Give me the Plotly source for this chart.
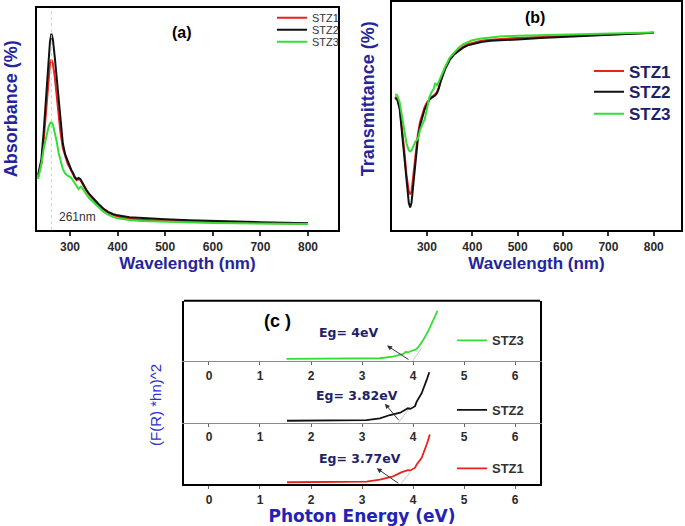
import plotly.graph_objects as go

W, H = 685, 526

# ---------------- Data ----------------
series_names = ["STZ1", "STZ2", "STZ3"]
series_colors = ["#e8221c", "#111111", "#35de35"]

# Panel (a): absorbance
wl_a = [233, 240, 245, 250, 255, 258, 261, 264, 268, 272, 276, 280, 285, 290, 295, 300,
        303, 306, 310, 314, 318, 322, 326, 330, 335, 340, 350, 360, 370, 380, 390, 400,
        425, 450, 500, 550, 600, 650, 700, 750, 800]
abs_stz1 = [24, 30, 41, 55, 69, 75, 76.8, 75, 69, 60, 52, 44, 37, 33, 30, 28, 26.5, 25.5,
            23.5, 22.5, 23, 22.5, 21, 19, 17.5, 16, 13.5, 11.3, 9.3, 7.9, 6.9, 6.2, 5.2,
            4.7, 4.3, 3.9, 3.6, 3.4, 3.3, 3.1, 2.9]
abs_stz2 = [25, 32, 45, 62, 78, 85, 88.4, 86, 78, 68, 58, 48, 39, 34, 31, 28.5, 27, 26,
            24, 23, 23.5, 23, 21.5, 19.5, 18, 16.5, 14, 11.8, 9.8, 8.3, 7.3, 6.7, 5.8,
            5.4, 4.9, 4.5, 4.1, 3.8, 3.6, 3.4, 3.1]
abs_stz3 = [23, 30, 37, 42, 46.5, 48, 48.7, 47.5, 44, 40, 35, 31, 27.5, 25.5, 24.5, 24,
            23.5, 22.5, 21, 19.5, 18.5, 19.5, 19, 17.5, 16, 14.5, 12.5, 10.2, 8.3, 7, 6,
            5.4, 4.6, 4.2, 3.8, 3.5, 3.3, 3.1, 3.0, 2.9, 2.8]
peak_nm = 261
peak_label = "261nm"

# Panel (b): transmittance
wl_b = [230, 235, 240, 245, 250, 255, 260, 263, 266, 270, 275, 280, 285, 290, 295, 300,
        305, 310, 315, 318, 322, 326, 330, 335, 340, 350, 360, 370, 380, 390, 400, 420,
        440, 460, 500, 550, 600, 650, 700, 750, 800]
tr_stz1 = [58.5, 57.5, 54, 45, 35, 24, 17, 15.7, 17, 24, 33, 42, 47.5, 51, 54, 56, 57.5,
           58.5, 59, 59.5, 60.5, 62.5, 65.5, 68.5, 71, 75, 77.5, 79, 80.5, 81.5, 82, 83,
           83.5, 83.8, 84.2, 84.7, 85.1, 85.5, 85.8, 86.2, 86.5]
tr_stz2 = [58, 57, 53, 43, 32, 20, 12, 10, 12, 20, 30, 40, 46, 50, 53, 55, 57, 58, 58.5,
           59, 60, 62, 65, 68, 70.5, 74.5, 77, 78.5, 80, 81, 81.5, 82.5, 83, 83.3, 83.6,
           84.2, 84.7, 85.1, 85.5, 86, 86.5]
tr_stz3 = [59.6, 59, 56, 50, 43, 38, 35, 34.5, 35, 37, 39, 40, 44, 46.5, 48.5, 53, 58,
           60.5, 62, 64.5, 63.5, 65, 67, 69.5, 71.5, 75.5, 78, 80, 81.5, 82.5, 83.2, 84,
           84.6, 84.9, 85.2, 85.5, 85.8, 86, 86.2, 86.4, 86.6]

# Panel (c): (F(R)*hn)^2 vs photon energy
e_stz1 = [1.53, 2.0, 2.5, 3.09, 3.35, 3.61, 3.78, 3.85, 3.9, 3.95, 4.0, 4.04, 4.07, 4.17, 4.27, 4.33]
f_stz1 = [3.3, 3.3, 3.5, 4.4, 7.7, 13, 19.7, 21.5, 23, 22.5, 25, 27, 32, 43, 65, 81]
e_stz2 = [1.53, 2.0, 2.5, 3.09, 3.35, 3.55, 3.75, 3.85, 3.9, 3.95, 4.0, 4.04, 4.07, 4.17, 4.27, 4.32]
f_stz2 = [3.3, 3.4, 3.6, 4.4, 7, 12.6, 16.4, 21, 23.5, 22.5, 24.6, 27, 34, 48, 70, 82]
e_stz3 = [1.52, 2.0, 2.5, 3.0, 3.35, 3.61, 3.81, 3.86, 3.9, 3.95, 4.0, 4.05, 4.1, 4.2, 4.3, 4.4, 4.48]
f_stz3 = [3.8, 3.8, 3.9, 4.2, 4.9, 7.7, 12, 15.5, 14.5, 16.5, 17.5, 19, 23, 35, 50, 67, 83]
eg_values = [3.77, 3.82, 4.0]
eg_labels = ["Eg= 3.77eV", "Eg= 3.82eV", "Eg= 4eV"]
# tangent (extrapolation) lines: energy and value at both ends
tan_e = [[3.62, 3.95], [3.55, 3.95], [3.88, 4.18]]
tan_f = [[-14, 20], [-18, 26], [-13, 23]]
# arrow heads and label anchor positions (data units)
arrow_e = [3.29, 3.45, 3.49]
arrow_f = [26, 31, 26]
label_e = [2.96, 2.9, 2.73]
label_f = [42, 43.5, 47.5]

energy_ticks = [0, 1, 2, 3, 4, 5, 6]
wl_ticks = [300, 400, 500, 600, 700, 800]

# ---------------- Styles ----------------
FONT = "Liberation Sans"
WIDE = "DejaVu Sans"
TITLE_BLUE = "#24249c"
NAVY = "#1d2266"
TICKFONT = dict(family=FONT, size=12, color="#2a2a2a", weight="bold")


def px_x(p):
    return p / W


def px_y(p):
    return 1 - p / H


fig = go.Figure()

legends_a = ["legend", "legend6", "legend7"]
legends_b = ["legend2", "legend8", "legend9"]
leg_a_y = [18, 30, 42]
leg_b_y = [72, 93, 115]

# Panel (a)
for name, col, ys, lg in zip(series_names, series_colors, [abs_stz1, abs_stz2, abs_stz3], legends_a):
    fig.add_trace(go.Scatter(x=wl_a, y=ys, mode="lines", name=name,
                             line=dict(color=col, width=2), xaxis="x", yaxis="y",
                             legend=lg))
# Panel (b)
for name, col, ys, lg in zip(series_names, series_colors, [tr_stz1, tr_stz2, tr_stz3], legends_b):
    fig.add_trace(go.Scatter(x=wl_b, y=ys, mode="lines", name=name,
                             line=dict(color=col, width=2), xaxis="x2", yaxis="y2",
                             legend=lg))
# Panel (c)
c_axes = [("x3", "y3", "legend3"), ("x4", "y4", "legend4"), ("x5", "y5", "legend5")]
c_data = [(e_stz1, f_stz1), (e_stz2, f_stz2), (e_stz3, f_stz3)]
for i, (name, col) in enumerate(zip(series_names, series_colors)):
    xa, ya, lg = c_axes[i]
    fig.add_trace(go.Scatter(x=tan_e[i], y=tan_f[i], mode="lines", showlegend=False,
                             line=dict(color="#c8c8c8", width=1), xaxis=xa, yaxis=ya,
                             hoverinfo="skip"))
    fig.add_trace(go.Scatter(x=c_data[i][0], y=c_data[i][1], mode="lines", name=name,
                             line=dict(color=col, width=1.8), xaxis=xa, yaxis=ya,
                             legend=lg))

frame = dict(showline=True, linecolor="black", linewidth=2, mirror=True,
             showgrid=False, zeroline=False)

layout = dict(
    width=W, height=H, margin=dict(l=0, r=0, t=0, b=0),
    paper_bgcolor="white", plot_bgcolor="white",
    font=dict(family=FONT),
    xaxis=dict(domain=[px_x(37), px_x(338)], range=[230.7, 863], anchor="y",
               tickvals=wl_ticks, ticks="outside", ticklen=4, tickwidth=1.5,
               tickcolor="#333", tickfont=TICKFONT,
               title=dict(text="Wavelength (nm)", standoff=4,
                          font=dict(family=FONT, size=17, color=TITLE_BLUE, weight="bold")),
               **frame),
    yaxis=dict(domain=[px_y(232), px_y(8)], range=[0, 100], anchor="x",
               showticklabels=False, ticks="", **frame),
    xaxis2=dict(domain=[px_x(392), px_x(681)], range=[223, 860], anchor="y2",
                tickvals=wl_ticks, ticks="outside", ticklen=4, tickwidth=1.5,
                tickcolor="#333", tickfont=TICKFONT,
                title=dict(text="Wavelength (nm)", standoff=4,
                           font=dict(family=FONT, size=17, color=TITLE_BLUE, weight="bold")),
                **frame),
    yaxis2=dict(domain=[px_y(232), px_y(2)], range=[0, 100], anchor="x2",
                showticklabels=False, ticks="", **frame),
)

for lg, yy in zip(legends_a, leg_a_y):
    layout[lg] = dict(x=px_x(272), y=px_y(yy), xanchor="left", yanchor="middle",
                      bgcolor="rgba(0,0,0,0)", borderwidth=0,
                      font=dict(family=FONT, size=11, color="#333"))
for lg, yy in zip(legends_b, leg_b_y):
    layout[lg] = dict(x=px_x(589), y=px_y(yy), xanchor="left", yanchor="middle",
                      bgcolor="rgba(0,0,0,0)", borderwidth=0,
                      font=dict(family=FONT, size=17, color=NAVY, weight="bold"))

c_dom = [[px_y(488), px_y(426)], [px_y(426), px_y(364)], [px_y(364), px_y(303)]]
leg_y = [472, 413, 343]
for i in range(3):
    xa, ya, lg = c_axes[i]
    xk = "xaxis" + xa[1:]
    yk = "yaxis" + ya[1:]
    is_bottom = i == 0
    layout[xk] = dict(domain=[px_x(184), px_x(540)], range=[-0.49, 6.49], anchor=ya,
                      tickvals=energy_ticks, ticks="outside", ticklen=3, tickwidth=1.2,
                      tickcolor="#666", tickfont=TICKFONT,
                      showline=True, linecolor="black" if is_bottom else "#8a8a8a",
                      linewidth=2 if is_bottom else 1.2,
                      showgrid=False, zeroline=False)
    if is_bottom:
        layout[xk]["title"] = dict(text="Photon Energy (eV)", standoff=7,
                                   font=dict(family=WIDE, size=17, color="#2222b4",
                                             weight="bold"))
    layout[yk] = dict(domain=c_dom[i], range=[0, 100], anchor=xa, showticklabels=False,
                      ticks="", showline=True, linecolor="black", linewidth=2,
                      mirror=True, showgrid=False, zeroline=False)
    layout[lg] = dict(x=px_x(452), y=px_y(leg_y[i]), xanchor="left", yanchor="middle",
                      bgcolor="rgba(0,0,0,0)", borderwidth=0,
                      font=dict(family=FONT, size=13, color="#333", weight="bold"))

fig.update_layout(**layout)

# Top frame line of panel (c)
fig.add_shape(type="line", xref="x5 domain", yref="y5 domain", x0=0, x1=1, y0=1, y1=1,
              line=dict(color="black", width=2))

# Dotted peak marker in (a)
fig.add_shape(type="line", xref="x", yref="y domain", x0=peak_nm, x1=peak_nm, y0=0, y1=1,
              line=dict(color="#cfcfcf", width=1, dash="dot"))

C = dict(xanchor="center", yanchor="middle", showarrow=False)
annotations = [
    dict(x=316, y=5.8, xref="x", yref="y", text=peak_label,
         font=dict(family=FONT, size=12, color="#333"), **C),
    dict(x=px_x(182), y=px_y(33), xref="paper", yref="paper", text="(a)",
         font=dict(family=FONT, size=16, color="black", weight="bold"), **C),
    dict(x=px_x(535), y=px_y(18), xref="paper", yref="paper", text="(b)",
         font=dict(family=FONT, size=16, color="black", weight="bold"), **C),
    dict(x=px_x(277), y=px_y(323), xref="paper", yref="paper", text="(c )",
         font=dict(family=FONT, size=18, color="black", weight="bold"), **C),
    dict(x=px_x(11), y=px_y(110), xref="paper", yref="paper", text="Absorbance (%)",
         textangle=-90,
         font=dict(family=FONT, size=18, color=TITLE_BLUE, weight="bold"), **C),
    dict(x=px_x(368), y=px_y(100), xref="paper", yref="paper", text="Transmittance (%)",
         textangle=-90,
         font=dict(family=FONT, size=18, color=TITLE_BLUE, weight="bold"), **C),
    dict(x=px_x(156), y=px_y(408), xref="paper", yref="paper", text="(F(R) *hn)^2",
         textangle=-90,
         font=dict(family=FONT, size=15, color="#2f2fd0"), **C),
]
arrow_off = [(23, 16), (15, 18), (23, 15)]
for i in range(3):
    xa, ya, _ = c_axes[i]
    annotations.append(dict(x=label_e[i], y=label_f[i], xref=xa, yref=ya, text=eg_labels[i],
                            font=dict(family=WIDE, size=12.5, color=NAVY, weight="bold"), **C))
    annotations.append(dict(x=arrow_e[i], y=arrow_f[i], xref=xa, yref=ya, text="",
                            showarrow=True, arrowhead=2, arrowsize=1, arrowwidth=1,
                            arrowcolor="#333", ax=arrow_off[i][0], ay=arrow_off[i][1]))
fig.update_layout(annotations=annotations)

fig.write_html("out.html", config={"displayModeBar": False},
               post_script="document.body.style.margin='0';document.body.style.padding='0';")
